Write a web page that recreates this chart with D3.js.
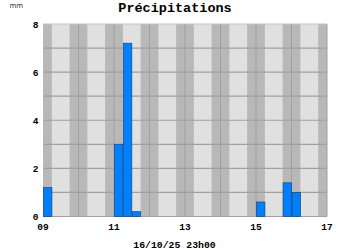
<!DOCTYPE html>
<html><head><meta charset="utf-8">
<script src="https://cdn.jsdelivr.net/npm/d3@7"></script>
<style>html,body{margin:0;padding:0;background:#fff;}svg{display:block;}</style>
</head><body>
<svg id="c" width="350" height="250"></svg>
<script>
const title = "Précipitations";
const unitLabel = "mm";
const footerLabel = "16/10/25 23h00";
const domainStart = "2025-10-09T00";
const domainEnd = "2025-10-17T00";
const xTickDates = ["2025-10-09T00","2025-10-11T00","2025-10-13T00","2025-10-15T00","2025-10-17T00"];
const yTicks = [0,2,4,6,8];
const barStarts = ["2025-10-09T00","2025-10-11T00","2025-10-11T06","2025-10-11T12","2025-10-15T00","2025-10-15T18","2025-10-16T00"];
const barValues = [1.2,3.0,7.2,0.2,0.6,1.4,1.0];
const barHours = 6;

const parse = d3.utcParse("%Y-%m-%dT%H");
const svg = d3.select("#c");
const L=43,R=327,T=24,B=216.5;
const x = d3.scaleUtc().domain([parse(domainStart), parse(domainEnd)]).range([L,R]);
const y = d3.scaleLinear().domain([0,8]).range([B,T]);

// background
svg.append("rect").attr("x",L).attr("y",T).attr("width",R-L).attr("height",B-T).attr("fill","#e0e0e0");
const days = d3.utcDay.range(parse(domainStart), parse(domainEnd));
days.forEach(d=>{
  const n0 = d, n1 = d3.utcHour.offset(d,6), e0 = d3.utcHour.offset(d,18), e1 = d3.utcDay.offset(d,1);
  svg.append("rect").attr("x",x(n0)).attr("y",T).attr("width",x(n1)-x(n0)).attr("height",B-T).attr("fill","#b8b8b8");
  svg.append("rect").attr("x",x(e0)).attr("y",T).attr("width",x(e1)-x(e0)).attr("height",B-T).attr("fill","#b8b8b8");
});
// horizontal grid
d3.range(0,9).forEach(v=>{
  svg.append("line").attr("x1",L).attr("x2",R).attr("y1",y(v)).attr("y2",y(v))
    .attr("stroke", v===8 ? "#c4c4c4" : "#a0a0a0").attr("stroke-width",1.2);
});
// vertical day lines
days.slice(1).concat([parse(domainEnd)]).forEach(d=>{
  svg.append("line").attr("x1",x(d)).attr("x2",x(d)).attr("y1",T).attr("y2",B)
    .attr("stroke","#a0a0a0").attr("stroke-width",1);
});
// bars
barStarts.forEach((s,i)=>{
  const t0 = parse(s), t1 = d3.utcHour.offset(t0,barHours);
  svg.append("rect").attr("x",x(t0)+0.5).attr("y",y(barValues[i]))
    .attr("width",x(t1)-x(t0)-0.5).attr("height",y(0)-y(barValues[i]))
    .attr("fill","#0080ff").attr("stroke","#1a4f8a").attr("stroke-width",0.8);
});
const font = "'Liberation Mono','DejaVu Sans Mono',monospace";
// y labels
yTicks.forEach(v=>{
  svg.append("text").attr("x",38.5).attr("y",y(v)+3.5).attr("text-anchor","end")
    .attr("font-family",font).attr("font-weight","bold").attr("font-size",9.5).attr("fill","#000").text(v);
});
// x labels
const fmt = d3.utcFormat("%d");
xTickDates.forEach(s=>{
  const d = parse(s);
  svg.append("text").attr("x",x(d)).attr("y",229.5).attr("text-anchor","middle")
    .attr("font-family",font).attr("font-weight","bold").attr("font-size",9.5).attr("fill","#000").text(fmt(d));
});
svg.append("text").attr("x",175).attr("y",12).attr("text-anchor","middle")
  .attr("font-family",font).attr("font-weight","bold").attr("font-size",13.5).attr("fill","#000").text(title);
svg.append("text").attr("x",9.5).attr("y",7.5).attr("font-family","'DejaVu Sans',sans-serif")
  .attr("font-size",7).attr("fill","#333").text(unitLabel);
svg.append("text").attr("x",174.5).attr("y",248).attr("text-anchor","middle")
  .attr("font-family",font).attr("font-weight","bold").attr("font-size",9.8).attr("fill","#000").text(footerLabel);
</script>
</body></html>
